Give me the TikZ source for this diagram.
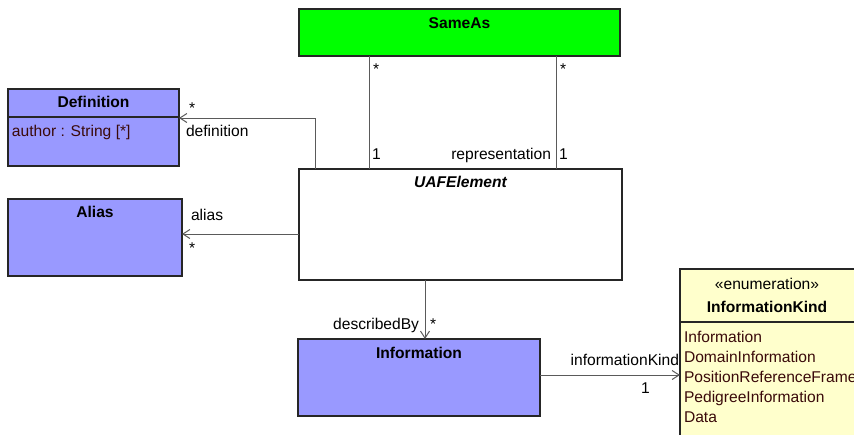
\documentclass[tikz,border=0pt]{standalone}
\usepackage{fontspec}
\setmainfont{Liberation Sans}
\usetikzlibrary{arrows.meta}
\definecolor{classblue}{HTML}{9999FF}
\definecolor{samegreen}{HTML}{00FF00}
\definecolor{enumyellow}{HTML}{FFFFCC}
\definecolor{linegray}{HTML}{5A5A5A}
\definecolor{attrbrown}{HTML}{3A0A0A}
\tikzset{
  classbox/.style={draw=black!85, line width=1.3pt, anchor=north west, inner sep=0pt, outer sep=0pt},
  assoc/.style={draw=linegray, line width=1pt},
  navig/.style={assoc, -{Straight Barb[length=7pt,width=9pt]}},
  lbl/.style={inner sep=0pt, outer sep=0pt},
}
\begin{document}
\fontsize{15.6}{20}\selectfont
\begin{tikzpicture}[x=1pt,y=-1pt]
            \clip (0,0) rectangle (854,434);
            % classes
            \node[classbox, fill=samegreen, minimum width=321pt, minimum height=47pt] (sameas) at (299,9) {};
            \node[classbox, fill=classblue, minimum width=171pt, minimum height=77pt] (def) at (8,89) {};
            \node[classbox, fill=classblue, minimum width=174pt, minimum height=77pt] (alias) at (8,199) {};
            \node[classbox, fill=white, minimum width=323pt, minimum height=111pt] (uaf) at (299,169) {};
            \node[classbox, fill=classblue, minimum width=242pt, minimum height=77pt] (info) at (298,339) {};
            \node[classbox, fill=enumyellow, minimum width=200pt, minimum height=190pt] (kind) at (680,269) {};
            \draw[line width=1.3pt, black!85] (8,117) -- (179,117);
            \draw[line width=1.3pt, black!85] (680,322) -- (880,322);
            % names
            \node[lbl, anchor=base, font=\bfseries] (sameasname) at (459.5,28) {SameAs};
            \node[lbl, anchor=base, font=\bfseries] (defname) at (93.5,107) {Definition};
            \node[lbl, anchor=base, font=\bfseries] (aliasname) at (95,217) {Alias};
            \node[lbl, anchor=base, font=\bfseries\itshape] (uafname) at (460.5,187) {UAFElement};
            \node[lbl, anchor=base, font=\bfseries] (infoname) at (419,358) {Information};
            \node[lbl, anchor=base] (kindstereo) at (767,289) {«enumeration»};
            \node[lbl, anchor=base, font=\bfseries] (kindname) at (767,312) {InformationKind};
            \node[lbl, anchor=base west, text=attrbrown] (author) at (12,136) {author : String [*]};
            \node[lbl, anchor=base west, text=attrbrown] (lit1) at (684,342) {Information};
            \node[lbl, anchor=base west, text=attrbrown] (lit2) at (684,362) {DomainInformation};
            \node[lbl, anchor=base west, text=attrbrown] (lit3) at (684,382) {PositionReferenceFrame};
            \node[lbl, anchor=base west, text=attrbrown] (lit4) at (684,402) {PedigreeInformation};
            \node[lbl, anchor=base west, text=attrbrown] (lit5) at (684,422) {Data};
            % connectors
            \coordinate (saleft) at (369,0);
            \coordinate (saright) at (556,0);
            \coordinate (defbend) at (315,118);
            \coordinate (aliasy) at (0,234);
            \coordinate (infox) at (425,0);
            \coordinate (kindy) at (0,375);
            \draw[assoc] (sameas.south -| saleft) -- (uaf.north -| saleft);
            \draw[assoc] (sameas.south -| saright) -- (uaf.north -| saright);
            \draw[navig] (uaf.north -| defbend) -- (defbend) -- (def.east |- defbend);
            \draw[navig] (uaf.west |- aliasy) -- (alias.east |- aliasy);
            \draw[navig] (uaf.south -| infox) -- (info.north -| infox);
            \draw[navig] (info.east |- kindy) -- (kind.west |- kindy);
            % ends
            \node[lbl, anchor=base west] (saleftstar) at (373,74) {*};
            \node[lbl, anchor=base west] (saleftone) at (372,159) {1};
            \node[lbl, anchor=base west] (sarightstar) at (560,74) {*};
            \node[lbl, anchor=base west] (sarightone) at (559,159) {1};
            \node[lbl, anchor=base east] (reprole) at (551,159) {representation};
            \node[lbl, anchor=base west] (defstar) at (189,113) {*};
            \node[lbl, anchor=base west] (defrole) at (186,136) {definition};
            \node[lbl, anchor=base west] (aliasrole) at (191,220) {alias};
            \node[lbl, anchor=base west] (aliasstar) at (189,253) {*};
            \node[lbl, anchor=base east] (inforole) at (419,329) {describedBy};
            \node[lbl, anchor=base west] (infostar) at (430,329) {*};
            \node[lbl, anchor=base east] (kindrole) at (679,365) {informationKind};
            \node[lbl, anchor=base west] (kindone) at (641,393) {1};
\end{tikzpicture}
\end{document}
